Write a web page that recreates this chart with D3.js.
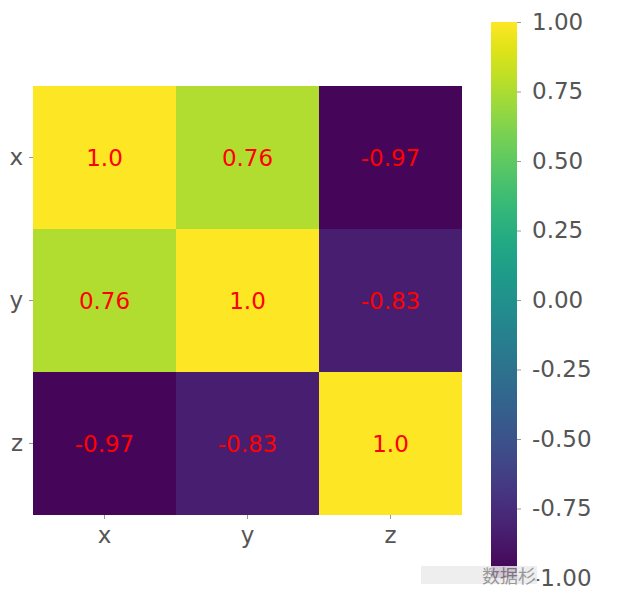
<!DOCTYPE html>
<html>
<head>
  <meta charset="utf-8">
  <title>Correlation heatmap</title>
  <style>
    body { margin: 0; background: #fff; }
    text { font-family: "DejaVu Sans", sans-serif; }
  </style>
</head>
<body>
  <svg id="chart"></svg>

  <script src="https://d3js.org/d3.v7.min.js"></script>
  <script>
    // data
    const labels = ["x", "y", "z"];
    const corr = [
      [1.0, 0.76, -0.97],
      [0.76, 1.0, -0.83],
      [-0.97, -0.83, 1.0]
    ];
    const annot = [
      ["1.0", "0.76", "-0.97"],
      ["0.76", "1.0", "-0.83"],
      ["-0.97", "-0.83", "1.0"]
    ];
    const cbTicks = [1.0, 0.75, 0.5, 0.25, 0.0, -0.25, -0.5, -0.75, -1.0];

    const width = 634, height = 607;
    const svg = d3.select("#chart").attr("width", width).attr("height", height);

    const color = d3.scaleSequential(d3.interpolateViridis).domain([-1, 1]);

    const x = d3.scaleBand().domain(labels).range([33, 462]);
    const y = d3.scaleBand().domain(labels).range([86, 515]);

    // cells
    const cells = [];
    corr.forEach((row, i) => row.forEach((v, j) => cells.push({ r: labels[i], c: labels[j], v: v, t: annot[i][j] })));

    svg.append("g").selectAll("rect")
      .data(cells)
      .enter().append("rect")
      .attr("x", d => x(d.c))
      .attr("y", d => y(d.r))
      .attr("width", x.bandwidth())
      .attr("height", y.bandwidth())
      .attr("fill", d => color(d.v));

    svg.append("g").selectAll("text")
      .data(cells)
      .enter().append("text")
      .attr("x", d => x(d.c) + x.bandwidth() / 2)
      .attr("y", d => y(d.r) + y.bandwidth() / 2)
      .attr("text-anchor", "middle")
      .attr("dominant-baseline", "central")
      .attr("fill", "red")
      .attr("font-size", 23)
      .text(d => d.t);

    // axes
    const tickColor = "#555";
    const xAxis = svg.append("g")
      .attr("transform", "translate(0,515)")
      .call(d3.axisBottom(x).tickSize(4).tickSizeOuter(0).tickPadding(8));
    const yAxis = svg.append("g")
      .attr("transform", "translate(33,0)")
      .call(d3.axisLeft(y).tickSize(4).tickSizeOuter(0).tickPadding(6));
    [xAxis, yAxis].forEach(a => {
      a.select(".domain").remove();
      a.selectAll("line").attr("stroke", "#999");
      a.selectAll("text").attr("fill", tickColor).attr("font-size", 23)
        .style("font-family", "DejaVu Sans, sans-serif");
    });

    // colorbar
    const cbX = 491, cbW = 26;
    const cb = d3.scaleLinear().domain([-1, 1]).range([578, 22]);
    const defs = svg.append("defs");
    const grad = defs.append("linearGradient")
      .attr("id", "cbgrad").attr("x1", 0).attr("y1", 1).attr("x2", 0).attr("y2", 0);
    d3.range(0, 1.0001, 0.05).forEach(t => {
      grad.append("stop").attr("offset", t).attr("stop-color", d3.interpolateViridis(t));
    });
    svg.append("rect")
      .attr("x", cbX).attr("y", cb(1))
      .attr("width", cbW).attr("height", cb(-1) - cb(1))
      .attr("fill", "url(#cbgrad)");

    const cbAxis = svg.append("g")
      .attr("transform", `translate(${cbX + cbW},0)`)
      .call(d3.axisRight(cb).tickValues(cbTicks).tickFormat(d3.format(".2f")).tickSize(4).tickPadding(11));
    cbAxis.select(".domain").remove();
    cbAxis.selectAll("line").attr("stroke", "#999");
    cbAxis.selectAll("text").attr("fill", tickColor).attr("font-size", 23)
      .style("font-family", "DejaVu Sans, sans-serif")
      .text(d => d3.format(".2f")(d).replace("−", "-"));

    // blurred watermark patch
    const wm = svg.append("g").attr("opacity", 0.85);
    wm.append("rect").attr("x", 421).attr("y", 566).attr("width", 116).attr("height", 18).attr("fill", "#ececec");
    wm.append("text").attr("x", 536).attr("y", 583).attr("fill", "#888").attr("font-size", 18)
      .attr("text-anchor", "end")
      .style("font-family", "Noto Sans CJK SC, sans-serif").text("数据杉");
  </script>
</body>
</html>
